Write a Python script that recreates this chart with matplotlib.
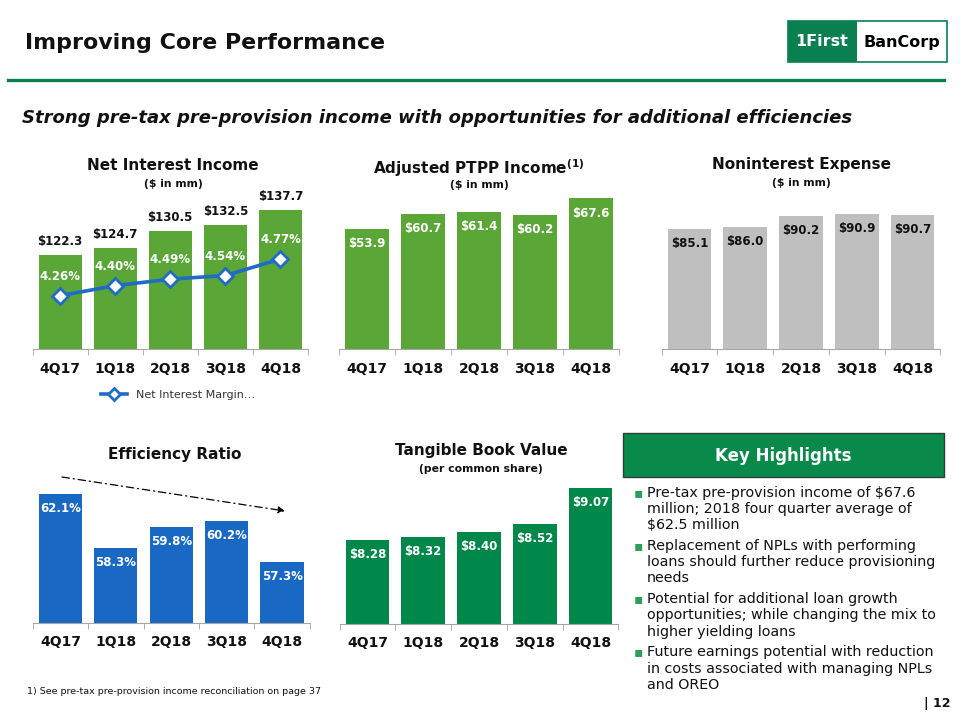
import matplotlib
matplotlib.use('Agg')
import matplotlib.pyplot as plt
from matplotlib.patches import Rectangle
from matplotlib.lines import Line2D

W, H = 960, 720  # slide size in pixels

quarters = ['4Q17', '1Q18', '2Q18', '3Q18', '4Q18']
nii = [122.3, 124.7, 130.5, 132.5, 137.7]  # net interest income, $mm
nim = [4.26, 4.40, 4.49, 4.54, 4.77]  # net interest margin, %
ptpp = [53.9, 60.7, 61.4, 60.2, 67.6]  # adjusted PTPP income, $mm
nonint_exp = [85.1, 86.0, 90.2, 90.9, 90.7]  # noninterest expense, $mm
eff_ratio = [62.1, 58.3, 59.8, 60.2, 57.3]  # efficiency ratio, %
tbv = [8.28, 8.32, 8.40, 8.52, 9.07]  # tangible book value per share

highlights = [
    ['Pre-tax pre-provision income of $67.6', 'million; 2018 four quarter average of', '$62.5 million'],
    ['Replacement of NPLs with performing', 'loans should further reduce provisioning', 'needs'],
    ['Potential for additional loan growth', 'opportunities; while changing the mix to', 'higher yielding loans'],
    ['Future earnings potential with reduction', 'in costs associated with managing NPLs', 'and OREO'],
]

LIGHT_GREEN = '#5AA637'
DARK_GREEN = '#00874A'
GREY = '#BFBFBF'
BLUE = '#1868C4'
LINE_BLUE = '#1F6BC5'
TXT = '#111111'


#pixel (from top-left) -> figure fraction
def px(x, y):
    return x / W, 1 - y / H


#axes from pixel box
def makeAxes(fig, left, right, top, bottom):
    return fig.add_axes([left / W, 1 - bottom / H, (right - left) / W, (bottom - top) / H])


#common bar chart drawing
def plotBars(ax, values, color, ylim, fmt, label_color, inside=True, pad=9):
    x = list(range(len(quarters)))
    ax.bar(x, values, width=0.78, color=color, zorder=2)
    ax.set_xlim(-0.5, len(quarters) - 0.5)
    ax.set_ylim(ylim)
    for s in ['top', 'right', 'left']:
        ax.spines[s].set_visible(False)
    ax.spines['bottom'].set_color('#A6A6A6')
    ax.set_yticks([])
    ax.set_xticks(x)
    ax.set_xticklabels(quarters, fontsize=10, fontweight='bold', color=TXT)
    ax.tick_params(axis='x', which='major', length=0, pad=pad)
    ax.set_xticks([i - 0.5 for i in range(len(quarters) + 1)], minor=True)
    ax.tick_params(axis='x', which='minor', length=4, color='#A6A6A6')
    ax.patch.set_alpha(0)
    for i, v in enumerate(values):
        dy = -10.5 if inside else 10
        ax.annotate(fmt % v, (i, v), xytext=(0, dy), textcoords='offset points',
                    ha='center', va='center', fontsize=8.5, fontweight='bold', color=label_color)


def chartTitle(fig, x, y, title, sub=None, sub_y=None):
    fig.text(*px(x, y), title, ha='center', va='center', fontsize=11, fontweight='bold', color=TXT)
    if sub:
        fig.text(*px(x, sub_y), sub, ha='center', va='center', fontsize=7.8, fontweight='bold', color=TXT)


def main():
    fig = plt.figure(figsize=(9.6, 7.2), dpi=100)
    fig.patch.set_facecolor('white')

    #header
    fig.text(*px(25, 43), 'Improving Core Performance', ha='left', va='center',
             fontsize=15.9, fontweight='bold', color=TXT)
    fig.add_artist(Line2D([8 / W, 944 / W], [1 - 80 / H, 1 - 80 / H], color='#0A8050', lw=2.4))
    fig.text(*px(22, 118), 'Strong pre-tax pre-provision income with opportunities for additional efficiencies',
             ha='left', va='center', fontsize=13, fontweight='bold', style='italic', color=TXT)

    #logo
    fig.add_artist(Rectangle(px(788, 62), 159 / W, 41 / H, transform=fig.transFigure,
                             facecolor='white', edgecolor='#0A8050', lw=1.2))
    fig.add_artist(Rectangle(px(788, 62), 69 / W, 41 / H, transform=fig.transFigure,
                             facecolor='#0A8050', edgecolor='none'))
    fig.text(*px(822, 42), '1First', ha='center', va='center', fontsize=11.5, fontweight='bold', color='white')
    fig.text(*px(902, 42), 'BanCorp', ha='center', va='center', fontsize=11.5, fontweight='bold', color='black')

    #Net Interest Income + NIM line
    ax1 = makeAxes(fig, 32.5, 308, 190, 349)
    plotBars(ax1, nii, LIGHT_GREEN, (90, 144.7), '$%.1f', TXT, inside=False)
    ax1b = ax1.twinx()
    ax1b.set_position(ax1.get_position())
    line, = ax1b.plot(range(len(quarters)), nim, color=LINE_BLUE, lw=2.6, marker='D', markersize=8,
                      markerfacecolor='white', markeredgecolor=LINE_BLUE, markeredgewidth=2, zorder=3)
    ax1b.set_ylim(3.52, 5.728)
    ax1b.set_yticks([])
    for s in ['top', 'right', 'left', 'bottom']:
        ax1b.spines[s].set_visible(False)
    for i, v in enumerate(nim):
        ax1b.annotate('%.2f%%' % v, (i, v), xytext=(0, 14), textcoords='offset points',
                      ha='center', va='center', fontsize=8.5, fontweight='bold', color='white')
    chartTitle(fig, 173, 165, 'Net Interest Income', '($ in mm)', 184)
    fig.legend([line], ['Net Interest Margin\u2026'], loc='center', bbox_to_anchor=px(178, 395),
               frameon=False, fontsize=8, handlelength=2.4, markerscale=0.8, labelcolor='#333333')

    #Adjusted PTPP Income
    ax2 = makeAxes(fig, 339, 619, 190, 349)
    plotBars(ax2, ptpp, LIGHT_GREEN, (0, 71.4), '$%.1f', 'white')
    chartTitle(fig, 479, 168, r'Adjusted PTPP Income$^{\mathbf{(1)}}$', '($ in mm)', 185)

    #Noninterest Expense
    ax3 = makeAxes(fig, 661.6, 940.4, 190, 349)
    plotBars(ax3, nonint_exp, GREY, (39, 100.2), '$%.1f', TXT)
    chartTitle(fig, 801, 165, 'Noninterest Expense', '($ in mm)', 183)

    #Efficiency Ratio
    ax4 = makeAxes(fig, 32.8, 309.7, 470, 623)
    plotBars(ax4, eff_ratio, BLUE, (53, 63.8), '%.1f%%', 'white', pad=8.5)
    chartTitle(fig, 175, 455, 'Efficiency Ratio')
    ax4.annotate('', xy=px(285, 511), xytext=px(62, 477), xycoords='figure fraction',
                 textcoords='figure fraction',
                 arrowprops=dict(arrowstyle='-|>', color='black', lw=0.9, linestyle=(0, (6, 3, 1, 3)),
                                 mutation_scale=10, shrinkA=0, shrinkB=0))

    #Tangible Book Value
    ax5 = makeAxes(fig, 339.6, 618.4, 470, 624)
    plotBars(ax5, tbv, DARK_GREEN, (7.0, 9.34), '$%.2f', 'white', pad=8.5)
    chartTitle(fig, 481, 451, 'Tangible Book Value', '(per common share)', 469)

    #Key Highlights box
    fig.add_artist(Rectangle(px(623, 477), 321 / W, 44 / H, transform=fig.transFigure,
                             facecolor='#0A8A4A', edgecolor='#2F3F35', lw=1))
    fig.text(*px(783, 456), 'Key Highlights', ha='center', va='center', fontsize=12,
             fontweight='bold', color='white')
    y = 492.7
    for bullet in highlights:
        fig.text(*px(638.5, y), '\u25aa', ha='center', va='center', fontsize=10, color='#2E9E5B')
        for ln in bullet:
            fig.text(*px(647, y), ln, ha='left', va='center', fontsize=10.3, color=TXT)
            y += 16.2
        y += 4.6

    #footnote and page number
    fig.text(*px(27, 692), '1) See pre-tax pre-provision income reconciliation on page 37',
             ha='left', va='center', fontsize=6.8, color=TXT)
    fig.text(*px(950, 703), '| 12', ha='right', va='center', fontsize=9, fontweight='bold', color=TXT)

    fig.savefig('out.png', dpi=100)


if __name__ == '__main__':
    main()
